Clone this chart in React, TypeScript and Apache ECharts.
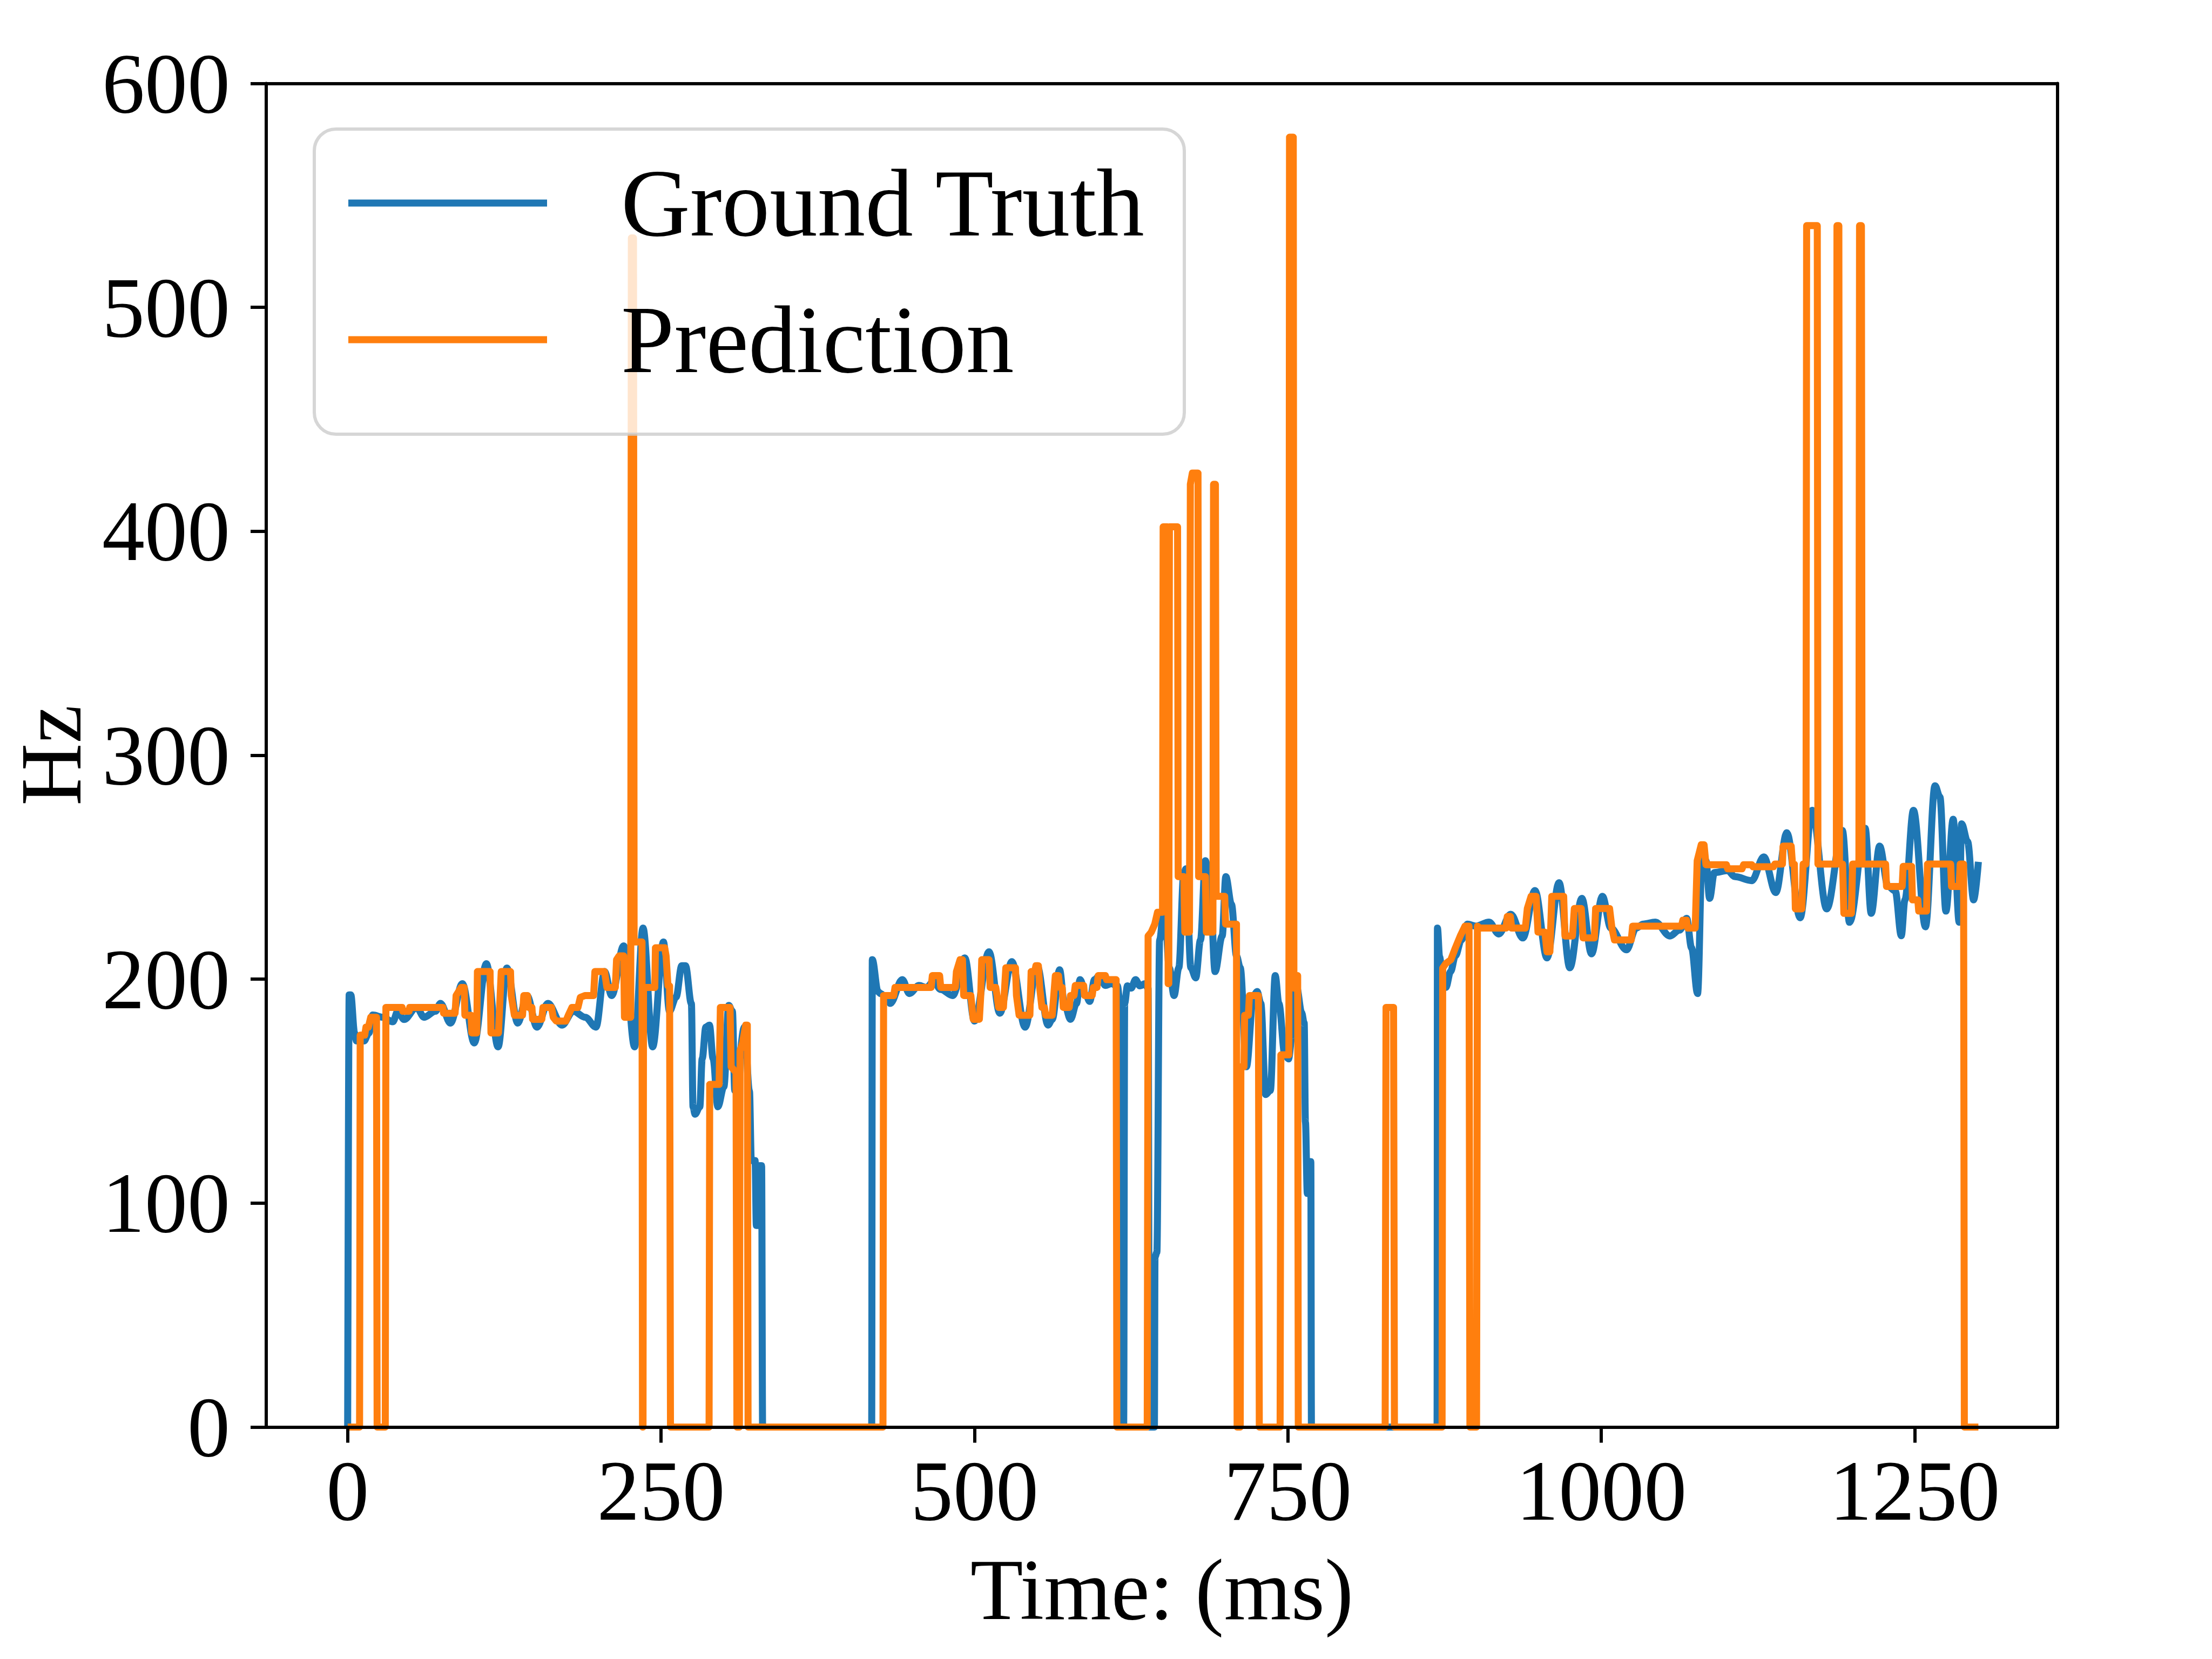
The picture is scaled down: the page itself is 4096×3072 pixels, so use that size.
import React, { useEffect, useRef } from "react";
import * as echarts from "echarts";

const FONT = "Liberation Serif";

// Time axis ticks (ms)
const xTicks = [0, 250, 500, 750, 1000, 1250];
const xMin = -64.95;
const xMax = 1363.95;

// Ground truth pitch track
const gtTime = [0, 1.2, 2.5, 5.5, 7, 13, 17, 20, 28, 36, 40, 45, 55, 61, 70, 74, 82, 91.5, 101, 110.6, 120, 127, 135.7, 143, 151, 159.7, 171, 180, 189.5, 198.1, 204.9, 210.6, 220.2, 228.9, 235.6, 243.3, 251.9, 256.7, 262, 266.5, 269.5, 274.2, 275.5, 277.1, 280.9, 282.8, 285.7, 288.6, 291.5, 295.3, 300.1, 304, 306.9, 308.8, 310.7, 316.5, 320.5, 322, 325, 326, 327.5, 328.5, 330.2, 331, 418, 418.5, 423, 425, 430.8, 432.8, 442.4, 448.1, 455.8, 461.6, 467.4, 473.1, 482.7, 492.3, 500, 511.6, 520.2, 529.8, 540.4, 550, 558.7, 562, 567.9, 571.7, 576.6, 581.4, 584.2, 589, 591.9, 595.8, 599.6, 604.4, 609.2, 614, 616, 616.8, 619, 619.8, 622, 625, 628.5, 632, 636, 638.5, 639.5, 643.5, 644, 645.5, 647.7, 651.5, 655.4, 659.2, 663, 667, 668.8, 672.6, 676.5, 680.3, 684.2, 688, 691.9, 697.6, 700.5, 705, 709, 712, 716.9, 722.6, 725.5, 728.4, 732.2, 736, 739.9, 742.8, 747.6, 750.5, 753.4, 757, 761, 763, 764, 765.5, 766.5, 767.3, 768.3, 768.8, 869, 869.3, 871, 874, 876, 879.8, 883.6, 888.4, 893.2, 900, 910.5, 918.2, 927.8, 937.4, 947.1, 956.7, 966.3, 974.9, 984.5, 992.2, 1000.9, 1007.6, 1020.1, 1027.8, 1033.5, 1043.1, 1054.7, 1062.4, 1068.1, 1072, 1076.8, 1080.6, 1083.5, 1086.4, 1090.2, 1100.8, 1106.6, 1120, 1129.6, 1139.2, 1148, 1158.6, 1168.2, 1179.8, 1192.3, 1198, 1210.5, 1215.3, 1222, 1228.8, 1234.5, 1239.3, 1242.2, 1249, 1258.6, 1266.2, 1270.1, 1274.9, 1280.7, 1285.5, 1287.4, 1292.2, 1297, 1300.8];
const gtHz = [0, 193, 193, 176, 172.4, 172.4, 176, 184, 183, 181, 185.7, 182, 187.4, 183, 185.7, 189.2, 180.4, 198, 171.5, 206.9, 169.8, 205, 180.4, 192.7, 178.6, 189.2, 179.5, 185.7, 183, 178.6, 203.4, 192.7, 214.9, 169.8, 222.8, 169.8, 216.6, 185.7, 192, 206, 206, 189, 143, 139.7, 143, 164.5, 178.6, 179.5, 164.5, 143, 152, 188.3, 185.7, 150.3, 159, 178.6, 150, 119, 119, 90, 90, 116.7, 116.7, 0, 0, 208.7, 194.5, 193.6, 191, 189.2, 199.8, 193.6, 197.2, 196.3, 199, 195.4, 192.7, 209.5, 181.3, 212.2, 184.8, 207.8, 178.6, 206, 179.5, 182, 204.2, 189.2, 182.1, 189.2, 199.8, 192.7, 190.1, 199.8, 201.6, 197.2, 198, 197, 190, 0, 0, 189.2, 197, 196, 199.8, 197, 198, 196, 0, 0, 76, 78, 217.5, 235.2, 205.1, 192.7, 205.1, 247.6, 249.3, 205.1, 200.6, 217.5, 252.9, 240.5, 203.4, 219.3, 245.8, 233.4, 210.4, 205.1, 160.9, 192.7, 194.5, 189.2, 148.5, 150.3, 201.6, 189.2, 166.2, 164.4, 175, 196.3, 185, 180.4, 136.2, 104.3, 104.3, 118.5, 118.5, 0, 0, 222.8, 210, 196.3, 196.3, 203.4, 210.4, 217.5, 224.6, 223.7, 225.5, 220.2, 229, 218.4, 239.6, 209.5, 243.1, 205.1, 236.1, 211.3, 237, 222.8, 213.1, 222.8, 224.6, 225.5, 219.3, 221.9, 227.2, 214, 193.6, 258.2, 252.9, 236.1, 247.6, 248.5, 245.8, 244, 254.6, 238.7, 265.4, 227.4, 275.4, 231.4, 266.4, 225.4, 267.4, 229.4, 259.4, 241.4, 239.4, 219.4, 235.4, 275.4, 223.4, 286.4, 281.4, 230.4, 271.4, 225.4, 269.4, 261.4, 235.4, 252.4];

// Predicted pitch track
const predTime = [0, 9.5, 10, 13.6, 14.6, 16.5, 18.4, 23, 23.5, 30, 30.5, 43.4, 44, 49, 49.5, 76, 76.5, 85.7, 86.5, 90.5, 93, 93.5, 98.5, 99, 103, 103.5, 113.6, 114.3, 120.3, 122.5, 129.9, 130.5, 133, 139.5, 140.5, 143.5, 144.3, 147, 147.5, 154.9, 155.8, 162.6, 164, 166.4, 174.1, 176, 178.9, 183.7, 185.6, 189.5, 196.2, 197.2, 204.9, 206.8, 213.5, 214.5, 216.5, 220.2, 220.8, 225.8, 226.3, 228, 228.5, 234.8, 235.2, 235.6, 236, 245, 245.5, 252.9, 254, 255.5, 256.8, 257.5, 288.3, 288.8, 296.3, 297.3, 305, 305.9, 309.8, 310.5, 312.5, 313, 315, 317.5, 318.8, 319.4, 427, 427.5, 435.6, 436.6, 465.4, 466.4, 472.2, 473.1, 484.7, 485.6, 488.5, 490.4, 491.4, 497.1, 499, 503.9, 505, 505.8, 511.6, 512.5, 517, 518, 519.2, 523.1, 525, 532.7, 533.5, 535.6, 544.2, 545.2, 548.1, 549, 551, 552, 553.8, 555.8, 556.7, 562, 564.5, 567, 568, 570, 570.8, 575.6, 576.6, 579.4, 580.4, 587.1, 587.8, 593.9, 594.8, 597.7, 598.7, 604.4, 605.4, 613, 613.6, 637.8, 638.5, 641, 643.8, 646, 650, 650.5, 654, 654.5, 655, 655.5, 662, 662.5, 667, 667.8, 671.5, 672.2, 673.8, 678.3, 678.8, 684.2, 685, 690.2, 690.7, 692.2, 692.8, 699.6, 700.3, 709, 709.5, 712, 712.5, 715, 715.5, 718.5, 719.3, 726.5, 727.2, 743.8, 744.4, 750.8, 751.3, 754.3, 754.8, 755.8, 757.8, 758.3, 827.6, 828.3, 834.3, 835, 873, 873.5, 876, 880, 883.6, 887.5, 891.3, 894.5, 895.2, 900.5, 901.2, 903, 924, 925, 927.5, 928.5, 939.4, 941, 944, 948, 949.5, 955, 956.7, 959, 960.5, 970, 971, 977, 978.5, 984, 985.5, 994.5, 995.5, 1006.6, 1008.5, 1010.5, 1023.9, 1025, 1064, 1065, 1068, 1069, 1074.9, 1076.5, 1079.7, 1082, 1083.5, 1099.8, 1100.8, 1112.3, 1113.5, 1120, 1121, 1137.3, 1138.5, 1144.5, 1145, 1151.5, 1152.5, 1154, 1154.8, 1160, 1161, 1163.3, 1163.8, 1172.3, 1172.8, 1187.5, 1188, 1189.5, 1190, 1192.5, 1193.5, 1199.5, 1200.5, 1205.5, 1206, 1207.5, 1208, 1226.8, 1227.5, 1240, 1240.8, 1247.5, 1248.2, 1252.5, 1253.2, 1259.5, 1260.2, 1278.7, 1279.4, 1285.5, 1286.3, 1289, 1289.6, 1300.8];
const predHz = [0, 0, 175, 175, 178.6, 178.6, 183, 183, 0, 0, 187.4, 187.4, 185.7, 185.7, 187.4, 187.4, 184.8, 184.8, 192.7, 196.3, 196.3, 183.9, 183.9, 176, 176, 203.4, 203.4, 176, 176, 203.4, 203.4, 192.7, 183.9, 183.9, 192.7, 192.7, 187.4, 187.4, 182.1, 182.1, 187.4, 187.4, 183, 181.3, 181.3, 183.9, 187.4, 187.4, 191.9, 192.7, 192.7, 203.4, 203.4, 196.3, 196.3, 208.7, 210.4, 210.4, 183, 183, 531, 531, 216.6, 216.6, 0, 0, 196.3, 196.3, 214, 214, 210.4, 197, 197, 0, 0, 153, 153, 187.4, 187.4, 160.9, 158.3, 0, 0, 168, 171.5, 179.5, 179.5, 0, 0, 192.7, 192.7, 196.3, 196.3, 201.6, 201.6, 196.3, 196.3, 203.4, 208.7, 208.7, 192.7, 192.7, 182.1, 182.1, 192.7, 208.7, 208.7, 196.3, 196.3, 192.7, 187.4, 187.4, 205.1, 205.1, 192.7, 183.9, 183.9, 203.4, 203.4, 206, 206, 196.3, 187.4, 187.4, 183.9, 183.9, 201.6, 201.6, 196.3, 196.3, 187.4, 187.4, 192.7, 192.7, 197.2, 197.2, 192.7, 192.7, 196.3, 196.3, 201.6, 201.6, 199.8, 199.8, 0, 0, 219.3, 221, 224.6, 229.9, 229.9, 402, 402, 198, 198, 402, 402, 245.8, 245.8, 221, 221, 421, 426, 426, 245.8, 245.8, 221, 221, 421, 421, 237, 237, 224.6, 224.6, 0, 0, 160.9, 160.9, 183.9, 183.9, 192.7, 192.7, 0, 0, 166.2, 166.2, 576, 576, 196, 201.6, 201.6, 0, 0, 187.4, 187.4, 0, 0, 205, 207, 208.7, 214, 219.3, 223.7, 223.7, 0, 0, 223.7, 222.8, 222.8, 228, 228, 222.8, 222.8, 231.6, 237, 237, 221, 221, 212.2, 212.2, 237, 237, 219.3, 219.3, 231.6, 231.6, 218.4, 218.4, 231.6, 231.6, 222.8, 217.5, 217.5, 223.7, 223.7, 226.3, 226.3, 222.8, 222.8, 252.9, 260, 260, 251.1, 251.1, 249.3, 249.3, 251.1, 251.1, 250.2, 250.2, 251.4, 251.4, 259.4, 259.4, 251.4, 251.4, 231.4, 231.4, 251.4, 251.4, 536.5, 536.5, 251.4, 251.4, 536.5, 536.5, 251.4, 251.4, 229.4, 229.4, 251.4, 251.4, 536.5, 536.5, 251.4, 251.4, 241.4, 241.4, 250.4, 250.4, 235.4, 235.4, 230.4, 230.4, 251.4, 251.4, 241.4, 241.4, 251.4, 251.4, 0, 0];

const legendNames = ["Ground Truth", "Prediction"];
const seriesColors = ["#1f77b4", "#ff7f0e"];

export default function App() {
  const ref = useRef<HTMLDivElement>(null);

  useEffect(() => {
    if (!ref.current) return;
    document.body.style.margin = "0";
    const chart = echarts.init(ref.current, undefined, { renderer: "svg" });

    const gtData = gtTime.map((t, i) => [t, gtHz[i]]);
    const predData = predTime.map((t, i) => [t, predHz[i]]);

    const spine = { show: true, onZero: false, lineStyle: { color: "#000", width: 6 } };
    const labelStyle = { fontFamily: FONT, fontSize: 158, color: "#000", lineHeight: 158 };

    chart.setOption({
      animation: false,
      backgroundColor: "#ffffff",
      textStyle: { fontFamily: FONT },
      grid: {
        left: 493,
        top: 154.5,
        width: 3317,
        height: 2488,
        containLabel: false,
        outerBoundsMode: "none",
      },
      legend: {
        data: legendNames,
        orient: "vertical",
        left: 582,
        top: 239,
        padding: [37, 71, 75, 63],
        itemWidth: 368,
        itemHeight: 13,
        itemGap: 53,
        icon: "rect",
        selectedMode: false,
        backgroundColor: "rgba(255,255,255,0.8)",
        borderColor: "rgba(204,204,204,0.8)",
        borderWidth: 6,
        borderRadius: 40,
        textStyle: { fontFamily: FONT, fontSize: 177, lineHeight: 200, color: "#000", padding: [0, 0, 0, 132] },
      },
      xAxis: [
        {
          type: "value",
          min: xMin,
          max: xMax,
          position: "bottom",
          z: 10,
          axisLine: spine,
          axisTick: { show: true, length: 29, lineStyle: { color: "#000", width: 6 }, customValues: xTicks },
          axisLabel: {
            show: true,
            customValues: xTicks,
            margin: 39,
            formatter: (v: number) => String(v),
            ...labelStyle,
          },
          splitLine: { show: false },
          name: "Time: (ms)",
          nameLocation: "middle",
          nameGap: 221,
          nameTextStyle: { fontFamily: FONT, fontSize: 160, color: "#000", lineHeight: 160 },
        },
        {
          type: "value",
          min: xMin,
          max: xMax,
          position: "top",
          z: 10,
          axisLine: spine,
          axisTick: { show: false },
          axisLabel: { show: false },
          splitLine: { show: false },
        },
      ],
      yAxis: [
        {
          type: "value",
          min: 0,
          max: 600,
          interval: 100,
          position: "left",
          z: 10,
          axisLine: spine,
          axisTick: { show: true, length: 29, lineStyle: { color: "#000", width: 6 } },
          axisLabel: { show: true, margin: 67, formatter: (v: number) => String(v), ...labelStyle },
          splitLine: { show: false },
          name: "Hz",
          nameLocation: "middle",
          nameRotate: 90,
          nameGap: 318,
          nameTextStyle: { fontFamily: FONT, fontSize: 160, color: "#000", lineHeight: 160 },
        },
        {
          type: "value",
          min: 0,
          max: 600,
          interval: 100,
          position: "right",
          z: 10,
          axisLine: spine,
          axisTick: { show: false },
          axisLabel: { show: false },
          splitLine: { show: false },
        },
      ],
      series: [
        {
          name: legendNames[0],
          type: "line",
          xAxisIndex: 0,
          yAxisIndex: 0,
          data: gtData,
          showSymbol: false,
          symbol: "none",
          smooth: 0.35,
          smoothMonotone: "x",
          z: 2,
          itemStyle: { color: seriesColors[0] },
          lineStyle: { color: seriesColors[0], width: 13, join: "round", cap: "butt" },
        },
        {
          name: legendNames[1],
          type: "line",
          xAxisIndex: 0,
          yAxisIndex: 0,
          data: predData,
          showSymbol: false,
          symbol: "none",
          z: 3,
          itemStyle: { color: seriesColors[1] },
          lineStyle: { color: seriesColors[1], width: 13, join: "round", cap: "butt" },
        },
      ],
    });

    return () => chart.dispose();
  }, []);

  return (
    <div
      ref={ref}
      style={{ position: "fixed", left: 0, top: 0, width: "4096px", height: "3072px", background: "#fff" }}
    />
  );
}
